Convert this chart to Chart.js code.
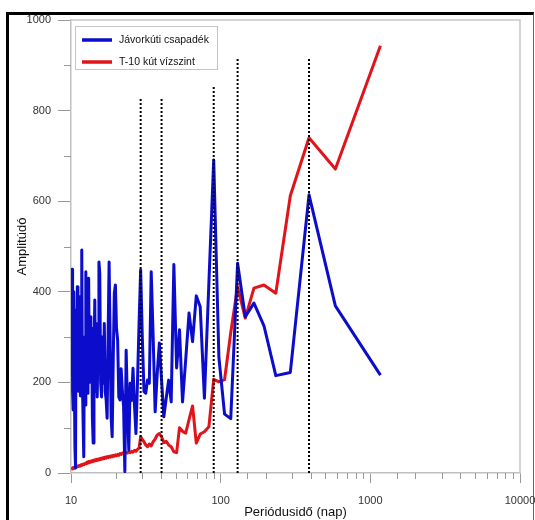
<!DOCTYPE html>
<html>
<head>
<meta charset="utf-8">
<script src="https://cdn.jsdelivr.net/npm/chart.js@4.4.1/dist/chart.umd.min.js"></script>
<style>
  html, body { margin: 0; padding: 0; background: #fff; }
  #frame {
    position: absolute; left: 6px; top: 12px; width: 524px; height: 520px;
    border-top: 3px solid #000; border-left: 3px solid #000; border-right: 1px solid #666;
  }
  #chart { position: absolute; left: 0; top: 0; }
</style>
</head>
<body>
<div id="frame"></div>
<canvas id="chart" width="535" height="520"></canvas>
<script>
// periodusido (nap)
const periods = [
  10.07, 10.16, 10.25, 10.34, 10.43, 10.52, 10.62, 10.72, 10.81, 10.92,
  11.02, 11.12, 11.23, 11.34, 11.45, 11.56, 11.68, 11.80, 11.92, 12.04,
  12.17, 12.29, 12.43, 12.56, 12.70, 12.84, 12.98, 13.12, 13.27, 13.43,
  13.58, 13.74, 13.90, 14.07, 14.24, 14.42, 14.60, 14.78, 14.97, 15.17,
  15.37, 15.57, 15.78, 16.00, 16.22, 16.45, 16.69, 16.93, 17.18, 17.43,
  17.70, 17.97, 18.25, 18.54, 18.84, 19.15, 19.47, 19.80, 20.14, 20.49,
  20.86, 21.24, 21.63, 22.04, 22.46, 22.90, 23.36, 23.84, 24.33, 24.85,
  25.39, 25.96, 26.55, 27.16, 27.81, 28.49, 29.20, 29.95, 30.74, 31.57,
  32.44, 33.37, 34.35, 35.39, 36.50, 37.68, 38.93, 40.28, 41.71, 43.26,
  44.92, 46.72, 48.67, 50.78, 53.09, 55.62, 58.40, 61.47, 64.89, 68.71,
  73.00, 77.87, 83.43, 89.85, 97.33, 106.18, 116.80, 129.78, 146.00, 166.86,
  194.67, 233.60, 292.00, 389.33, 584.00, 1168.00
];

const csapadek = [
  257, 450, 180, 139, 400, 240, 60, 11, 360, 180,
  411, 220, 380, 180, 389, 170, 330, 492, 200, 120,
  36, 300, 150, 444, 220, 176, 380, 430, 200, 345,
  221, 320, 120, 66, 250, 382, 180, 330, 168, 300,
  466, 440, 200, 168, 300, 198, 330, 180, 161, 121,
  300, 466, 300, 124, 80, 250, 397, 415, 320, 294,
  168, 161, 230, 180, 146, 3, 271, 150, 51, 198,
  160, 231, 150, 87, 200, 330, 448, 300, 180, 176,
  205, 198, 444, 300, 135, 220, 287, 205, 124, 165,
  205, 157, 460, 232, 316, 157, 250, 353, 290, 391,
  367, 165, 420, 691, 255, 130, 120, 463, 345, 375,
  325, 215, 222, 614, 369, 216
];

const vizszint = [
  8, 10, 9, 12, 10, 11, 13, 12, 14, 13,
  15, 14, 16, 15, 17, 16, 18, 17, 19, 18,
  20, 19, 21, 22, 20, 24, 22, 25, 23, 26,
  24, 27, 25, 28, 26, 29, 27, 30, 28, 31,
  29, 32, 30, 33, 31, 34, 32, 35, 33, 36,
  34, 37, 35, 38, 36, 39, 37, 40, 38, 41,
  39, 43, 41, 44, 45, 43, 46, 44, 47, 45,
  48, 46, 50, 48, 52, 55, 80, 74, 69, 62,
  58, 64, 60, 69, 75, 84, 87, 80, 67, 70,
  62, 58, 47, 45, 100, 92, 88, 118, 148, 66,
  86, 91, 102, 207, 201, 206, 310, 411, 342, 408,
  415, 397, 612, 740, 671, 943
];

// pontozott jelolovonalak
const markerPeriods = [29.20, 40.28, 89.85, 129.78, 389.33];
const markerTops = [830, 830, 852, 918, 918];

const xLabels = [10, 100, 1000, 10000];
const yLabels = [0, 200, 400, 600, 800, 1000];

const FONT = "'Liberation Sans', Arial, sans-serif";

const markerSets = markerPeriods.map((p, i) => ({
    label: '',
    data: [{ x: p, y: 0 }, { x: p, y: markerTops[i] }],
    borderColor: '#000',
    borderWidth: 2,
    borderDash: [2, 2],
    pointRadius: 0,
    order: 0
}));

// kis osztasok + keret
const extrasPlugin = {
    id: 'extras',
    beforeDatasetsDraw(chart) {
        const { ctx, chartArea } = chart;
        ctx.save();
        ctx.strokeStyle = '#c8c8c8';
        ctx.lineWidth = 1.5;
        ctx.beginPath();
        ctx.moveTo(chartArea.left, chartArea.top);
        ctx.lineTo(chartArea.right, chartArea.top);
        ctx.lineTo(chartArea.right, chartArea.bottom);
        ctx.stroke();
        ctx.restore();
    },
    afterDraw(chart) {
        const { ctx, chartArea, scales } = chart;
        ctx.save();
        ctx.strokeStyle = '#999';
        ctx.lineWidth = 1;
        ctx.beginPath();
        scales.y.ticks.forEach(t => {
            if (!yLabels.includes(t.value)) {
                const y = Math.round(scales.y.getPixelForValue(t.value)) + 0.5;
                ctx.moveTo(chartArea.left - 7, y);
                ctx.lineTo(chartArea.left, y);
            }
        });
        scales.x.ticks.forEach(t => {
            if (!xLabels.includes(t.value)) {
                const x = Math.round(scales.x.getPixelForValue(t.value)) + 0.5;
                ctx.moveTo(x, chartArea.bottom);
                ctx.lineTo(x, chartArea.bottom + 6);
            }
        });
        ctx.stroke();

        // jelmagyarazat
        const lx = 75.5, ly = 26.5;
        ctx.fillStyle = '#fff';
        ctx.fillRect(lx, ly, 142, 43);
        ctx.strokeStyle = '#c4c4c4';
        ctx.strokeRect(lx, ly, 142, 43);
        const items = chart.data.datasets.filter(d => d.label);
        items.forEach((d, i) => {
            const y = 40 + i * 22;
            ctx.strokeStyle = d.borderColor;
            ctx.lineWidth = 3.5;
            ctx.beginPath();
            ctx.moveTo(82, y);
            ctx.lineTo(112, y);
            ctx.stroke();
            ctx.fillStyle = '#111';
            ctx.font = '10.5px ' + FONT;
            ctx.textBaseline = 'middle';
            ctx.fillText(d.label, 119, y);
        });
        ctx.restore();
    }
};

new Chart(document.getElementById('chart'), {
    type: 'line',
    data: {
        datasets: [
            {
                label: 'Jávorkúti csapadék',
                data: periods.map((p, i) => ({ x: p, y: csapadek[i] })),
                borderColor: '#0c0ccc',
                borderWidth: 3,
                borderJoinStyle: 'round',
                pointRadius: 0,
                tension: 0,
                order: 1
            },
            {
                label: 'T-10 kút vízszint',
                data: periods.map((p, i) => ({ x: p, y: vizszint[i] })),
                borderColor: '#e0141a',
                borderWidth: 3,
                borderJoinStyle: 'round',
                pointRadius: 0,
                tension: 0,
                order: 2
            },
            ...markerSets
        ]
    },
    options: {
        responsive: false,
        animation: false,
        layout: { padding: { left: 10, top: 20, right: 15, bottom: 0 } },
        plugins: { legend: { display: false }, tooltip: { enabled: false } },
        scales: {
            x: {
                type: 'logarithmic',
                min: 10,
                max: 10000,
                afterFit(scale) { scale.height = 47; scale.paddingLeft = 0; scale.paddingRight = 0; },
                border: { color: '#c0c0c0', width: 1.5 },
                grid: {
                    drawOnChartArea: false,
                    tickLength: 10,
                    tickColor: c => xLabels.includes(c.tick && c.tick.value) ? '#999' : 'rgba(0,0,0,0)'
                },
                ticks: {
                    autoSkip: false,
                    maxRotation: 0,
                    minRotation: 0,
                    padding: 11,
                    color: '#333',
                    font: { family: FONT, size: 11 },
                    callback: v => xLabels.includes(v) ? String(v) : ''
                },
                title: {
                    display: true,
                    text: 'Periódusidő (nap)',
                    color: '#111',
                    font: { family: FONT, size: 13 },
                    padding: { top: 0, bottom: 0 }
                }
            },
            y: {
                min: 0,
                max: 1000,
                afterFit(scale) { scale.width = 61; scale.paddingTop = 0; scale.paddingBottom = 0; },
                border: { color: '#c0c0c0', width: 1.5 },
                grid: {
                    drawOnChartArea: false,
                    tickLength: 13,
                    tickColor: c => yLabels.includes(c.tick && c.tick.value) ? '#999' : 'rgba(0,0,0,0)'
                },
                ticks: {
                    stepSize: 100,
                    padding: 7,
                    color: '#333',
                    font: { family: FONT, size: 11 },
                    callback: v => yLabels.includes(v) ? String(v) : ''
                },
                title: {
                    display: true,
                    text: 'Amplitúdó',
                    color: '#111',
                    font: { family: FONT, size: 13 },
                    padding: { top: 5, bottom: 0 }
                }
            }
        }
    },
    plugins: [extrasPlugin]
});
</script>
</body>
</html>
